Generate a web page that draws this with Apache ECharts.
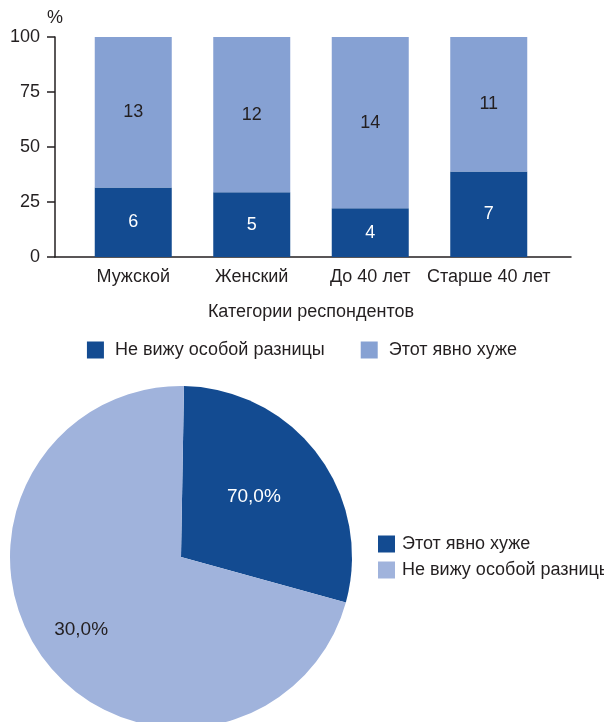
<!DOCTYPE html>
<html lang="ru">
<head>
    <meta charset="UTF-8">
    <title>Категории респондентов</title>
    <script type="text/javascript" src="https://cdn.jsdelivr.net/npm/echarts@6/dist/echarts.min.js"></script>
    <style>
        html, body { margin: 0; padding: 0; background: #fff; }
        #chart { width: 604px; height: 722px; }
    </style>
</head>
<body>
<div id="chart"></div>

<script type="text/javascript">
    // данные
    var categories = ['Мужской', 'Женский', 'До 40 лет', 'Старше 40 лет'];
    var seriesNames = ['Не вижу особой разницы', 'Этот явно хуже'];
    // доли в % (высота столбиков)
    var noDiffPct = [31.6, 29.4, 22.2, 38.9];
    var worsePct = [68.4, 70.6, 77.8, 61.1];
    // подписи внутри столбиков (кол-во ответов)
    var noDiffCount = [6, 5, 4, 7];
    var worseCount = [13, 12, 14, 11];
    var yTicks = [0, 25, 50, 75, 100];

    // круговая
    var pieNames = ['Этот явно хуже', 'Не вижу особой разницы'];
    var pieValues = [29, 71];
    var pieLabels = ['70,0%', '30,0%'];

    var darkBlue = '#134b91';
    var lightBlue = '#86a1d3';
    var pieLight = '#a0b3dc';
    var textColor = '#231f20';
    var font = 'Liberation Sans, Arial, sans-serif';

    var chart = echarts.init(document.getElementById('chart'));

    var option = {
        animation: false,
        textStyle: {fontFamily: font, color: textColor},
        grid: [
            // столбики
            {left: 74, right: 56, top: 37, bottom: 465},
            // оси
            {left: 55, right: 33, top: 37, bottom: 465}
        ],
        legend: [
            {
                data: [
                    {name: seriesNames[0], itemStyle: {color: darkBlue}},
                    {name: seriesNames[1], itemStyle: {color: lightBlue}}
                ],
                top: 336,
                left: 'center',
                itemWidth: 17,
                itemHeight: 17,
                itemGap: 36,
                icon: 'rect',
                selectedMode: false,
                textStyle: {fontSize: 18, color: textColor, fontFamily: font, padding: [0, 0, 0, 6]}
            },
            {
                data: [
                    {name: pieNames[0], itemStyle: {color: darkBlue}},
                    {name: pieNames[1], itemStyle: {color: pieLight}}
                ],
                orient: 'vertical',
                left: 373,
                top: 530,
                itemWidth: 17,
                itemHeight: 17,
                itemGap: 8,
                icon: 'rect',
                selectedMode: false,
                textStyle: {fontSize: 18, color: textColor, fontFamily: font, padding: [0, 0, 0, 2]}
            }
        ],
        xAxis: [
            {
                type: 'category',
                gridIndex: 0,
                data: categories,
                axisLine: {show: false},
                axisTick: {show: false},
                axisLabel: {fontSize: 18, color: textColor, margin: 11, interval: 0, fontFamily: font},
                name: 'Категории респондентов',
                nameLocation: 'middle',
                nameGap: 46,
                nameTextStyle: {fontSize: 18, color: textColor, fontFamily: font}
            },
            {
                type: 'value',
                gridIndex: 1,
                min: 0,
                max: 1,
                axisLine: {show: true, lineStyle: {color: '#231f20', width: 1.5}},
                axisTick: {show: false},
                axisLabel: {show: false},
                splitLine: {show: false}
            }
        ],
        yAxis: [
            {
                type: 'value',
                gridIndex: 0,
                min: 0,
                max: 100,
                show: false
            },
            {
                type: 'value',
                gridIndex: 1,
                min: yTicks[0],
                max: yTicks[yTicks.length - 1],
                interval: 25,
                name: '%',
                nameGap: 10,
                nameTextStyle: {fontSize: 18, color: textColor, fontFamily: font},
                axisLine: {show: true, lineStyle: {color: '#231f20', width: 1.5}},
                axisTick: {show: true, length: 8, lineStyle: {color: '#231f20', width: 1.5}},
                axisLabel: {fontSize: 18, color: textColor, margin: 15, fontFamily: font},
                splitLine: {show: false}
            }
        ],
        series: [
            {
                name: seriesNames[0],
                type: 'bar',
                xAxisIndex: 0,
                yAxisIndex: 0,
                stack: 'total',
                barWidth: 77,
                itemStyle: {color: darkBlue},
                label: {
                    show: true,
                    position: 'inside',
                    fontSize: 18,
                    color: '#fff',
                    fontFamily: font,
                    formatter: function (p) { return noDiffCount[p.dataIndex]; }
                },
                data: noDiffPct
            },
            {
                name: seriesNames[1],
                type: 'bar',
                xAxisIndex: 0,
                yAxisIndex: 0,
                stack: 'total',
                barWidth: 77,
                itemStyle: {color: lightBlue},
                label: {
                    show: true,
                    position: 'inside',
                    fontSize: 18,
                    color: textColor,
                    fontFamily: font,
                    formatter: function (p) { return worseCount[p.dataIndex]; }
                },
                data: worsePct
            },
            {
                type: 'pie',
                center: [181, 557],
                radius: 171,
                startAngle: 89,
                clockwise: true,
                silent: true,
                label: {
                    show: true,
                    position: 'inside',
                    fontSize: 19,
                    fontFamily: font,
                    formatter: function (p) { return pieLabels[p.dataIndex]; }
                },
                labelLayout: function (p) {
                    if (p.dataIndex === 0) {
                        return {dx: 2, dy: -7};
                    }
                    return {dx: -29, dy: 20};
                },
                data: [
                    {name: pieNames[0], value: pieValues[0], itemStyle: {color: darkBlue}, label: {color: '#fff'}},
                    {name: pieNames[1], value: pieValues[1], itemStyle: {color: pieLight}, label: {color: textColor}}
                ]
            }
        ]
    };

    chart.setOption(option);
</script>
</body>
</html>
